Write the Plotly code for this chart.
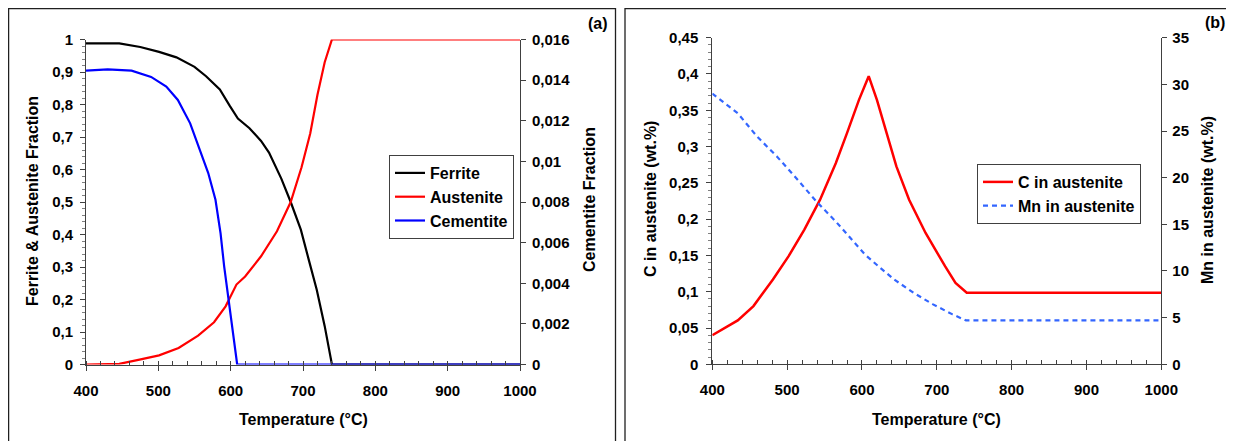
import plotly.graph_objects as go

# ---------------- data (panel a) ----------------
T_ferrite = [400, 446, 475, 501, 525, 550, 566, 585, 599, 610, 626, 642, 653, 670, 683, 697, 708, 719, 730, 740, 1000]
ferrite = [0.988, 0.988, 0.977, 0.962, 0.945, 0.916, 0.887, 0.846, 0.795, 0.757, 0.727, 0.688, 0.652, 0.572, 0.500, 0.415, 0.322, 0.23, 0.118, 0.0, 0.0]

T_austenite = [400, 446, 474, 501, 528, 555, 577, 593, 608, 620, 642, 664, 683, 698, 710, 720, 730, 740, 1000]
austenite = [0.0, 0.002, 0.015, 0.028, 0.051, 0.089, 0.13, 0.179, 0.246, 0.271, 0.333, 0.41, 0.5, 0.607, 0.711, 0.83, 0.93, 1.0, 1.0]

T_cementite = [400, 430, 463, 490, 511, 527, 544, 554, 569, 579, 586, 591, 597, 604, 609, 1000]
cementite = [0.014464, 0.014528, 0.014464, 0.01416, 0.01368, 0.013024, 0.011872, 0.01088, 0.009424, 0.008112, 0.006464, 0.004832, 0.0032, 0.001552, 0.0, 0.0]

# ---------------- data (panel b) ----------------
T_C = [400, 418, 434, 455, 481, 502, 523, 544, 565, 580, 596, 609, 620, 633, 646, 663, 685, 711, 725, 740, 1000]
C_aust = [0.04, 0.0504, 0.0605, 0.0802, 0.1169, 0.149, 0.1856, 0.2268, 0.277, 0.3185, 0.3643, 0.397, 0.3643, 0.3185, 0.2727, 0.2268, 0.181, 0.1352, 0.112, 0.0985, 0.0985]

T_Mn = [400, 434, 460, 486, 512, 539, 565, 591, 604, 622, 643, 669, 695, 721, 739, 1000]
Mn_aust = [29.0, 26.9, 24.4, 22.3, 19.96, 17.46, 15.3, 13.0, 11.76, 10.5, 9.09, 7.66, 6.42, 5.35, 4.7, 4.7]

# ---------------- tick labels ----------------
x_ticks = [400, 500, 600, 700, 800, 900, 1000]
x_labels = ["400", "500", "600", "700", "800", "900", "1000"]
ya_ticks = [0, 0.1, 0.2, 0.3, 0.4, 0.5, 0.6, 0.7, 0.8, 0.9, 1.0]
ya_labels = ["0", "0,1", "0,2", "0,3", "0,4", "0,5", "0,6", "0,7", "0,8", "0,9", "1"]
ya2_ticks = [0, 0.002, 0.004, 0.006, 0.008, 0.010, 0.012, 0.014, 0.016]
ya2_labels = ["0", "0,002", "0,004", "0,006", "0,008", "0,01", "0,012", "0,014", "0,016"]
yb_ticks = [0, 0.05, 0.1, 0.15, 0.2, 0.25, 0.3, 0.35, 0.4, 0.45]
yb_labels = ["0", "0,05", "0,1", "0,15", "0,2", "0,25", "0,3", "0,35", "0,4", "0,45"]
yb2_ticks = [0, 5, 10, 15, 20, 25, 30, 35]
yb2_labels = ["0", "5", "10", "15", "20", "25", "30", "35"]

W, H = 1234, 441
OFF = 8  # page body margin of the html page


def px(x):
    return (x - OFF) / W


def py(y):
    return (H - (y - OFF)) / H


FONT = "Liberation Sans, Arial, sans-serif"
AX = "#404040"

fig = go.Figure()
fig.add_trace(go.Scatter(x=T_ferrite, y=ferrite, name="Ferrite", mode="lines",
                         line=dict(color="black", width=2.2), xaxis="x", yaxis="y", legend="legend"))
fig.add_trace(go.Scatter(x=T_austenite, y=austenite, name="Austenite", mode="lines",
                         line=dict(color="#ff0000", width=2.2), xaxis="x", yaxis="y", legend="legend"))
fig.add_trace(go.Scatter(x=T_cementite, y=cementite, name="Cementite", mode="lines",
                         line=dict(color="#0000ff", width=2.2), xaxis="x", yaxis="y2", legend="legend"))
fig.add_trace(go.Scatter(x=T_C, y=C_aust, name="C in austenite", mode="lines",
                         line=dict(color="#ff0000", width=2.5), xaxis="x2", yaxis="y3", legend="legend2"))
fig.add_trace(go.Scatter(x=T_Mn, y=Mn_aust, name="Mn in austenite", mode="lines",
                         line=dict(color="#3366ff", width=2.2, dash="5px,4px"), xaxis="x2", yaxis="y4", legend="legend2"))

tickfont = dict(family=FONT, size=15, color="black", weight="bold")


def xax(domain, anchor):
    return dict(domain=domain, anchor=anchor, range=[400, 1000], tickvals=x_ticks, ticktext=x_labels,
                ticks="outside", ticklen=5, tickcolor=AX, tickwidth=1,
                minor=dict(ticks="inside", dtick=20, ticklen=4, tickcolor=AX, tickwidth=1),
                showline=True, linecolor=AX, linewidth=1, showgrid=False, zeroline=False,
                tickfont=tickfont, ticklabelstandoff=7, fixedrange=True, automargin=False)


def yax(domain, rng, tv, tt, side="left", overlaying=None, anchor=None, minor_dtick=None, standoff=4):
    d = dict(domain=domain, range=rng, tickvals=tv, ticktext=tt, side=side,
             ticks="outside", ticklen=5, tickcolor=AX, tickwidth=1,
             showline=True, linecolor=AX, linewidth=1, showgrid=False, zeroline=False,
             tickfont=tickfont, ticklabelstandoff=standoff, fixedrange=True, automargin=False)
    if overlaying:
        d["overlaying"] = overlaying
    if anchor:
        d["anchor"] = anchor
    if minor_dtick:
        d["minor"] = dict(ticks="outside", dtick=minor_dtick, ticklen=3, tickcolor="#808080", tickwidth=1)
    return d


ydomA = [py(364.5), py(39.5)]
ydomB = [py(364.3), py(37.7)]

fig.update_layout(
    width=W, height=H,
    margin=dict(l=0, r=0, t=0, b=0, pad=0, autoexpand=False),
    paper_bgcolor="white", plot_bgcolor="white",
    font=dict(family=FONT, size=16, color="black", weight="bold"),
    xaxis=xax([px(86), px(520)], "y"),
    yaxis=yax(ydomA, [0, 1], ya_ticks, ya_labels, anchor="x", minor_dtick=0.02, standoff=4),
    yaxis2=yax(ydomA, [0, 0.016], ya2_ticks, ya2_labels, side="right", overlaying="y", anchor="x", standoff=3),
    xaxis2=xax([px(712.3), px(1161.3)], "y3"),
    yaxis3=yax(ydomB, [0, 0.45], yb_ticks, yb_labels, anchor="x2", minor_dtick=0.01, standoff=5),
    yaxis4=yax(ydomB, [0, 35], yb2_ticks, yb2_labels, side="right", overlaying="y3", anchor="x2", standoff=2),
    legend=dict(x=px(389), y=py(155), xanchor="left", yanchor="top",
                bgcolor="white", bordercolor="#404040", borderwidth=1,
                font=dict(family=FONT, size=16, color="black", weight="bold"), tracegroupgap=0),
    legend2=dict(x=px(977), y=py(164), xanchor="left", yanchor="top",
                 bgcolor="white", bordercolor="#404040", borderwidth=1,
                 font=dict(family=FONT, size=16, color="black", weight="bold"), tracegroupgap=0),
    showlegend=True,
)


def ann(text, x, y, angle=0):
    fig.add_annotation(text=text, x=px(x), y=py(y), xref="paper", yref="paper",
                       showarrow=False, textangle=angle, xanchor="center", yanchor="middle",
                       font=dict(family=FONT, size=16, color="black", weight="bold"))


ann("Ferrite &amp; Austenite Fraction", 32, 201, -90)
ann("Cementite Fraction", 589, 200, -90)
ann("Temperature (°C)", 303, 419)
ann("(a)", 598, 23)
ann("C in austenite (wt.%)", 650, 199, -90)
ann("Mn in austenite (wt.%)", 1207, 200, -90)
ann("Temperature (°C)", 936, 419)
ann("(b)", 1215, 22)

# panel frames
fig.add_shape(type="rect", xref="paper", yref="paper", x0=px(8.6), x1=px(615.5), y0=-0.05, y1=py(8.6),
              line=dict(color="#202020", width=1.3), fillcolor="rgba(0,0,0,0)", layer="below")
fig.add_shape(type="rect", xref="paper", yref="paper", x0=px(625), x1=1.05, y0=-0.05, y1=py(8.6),
              line=dict(color="#202020", width=1.3), fillcolor="rgba(0,0,0,0)", layer="below")

fig.write_html("out.html")
